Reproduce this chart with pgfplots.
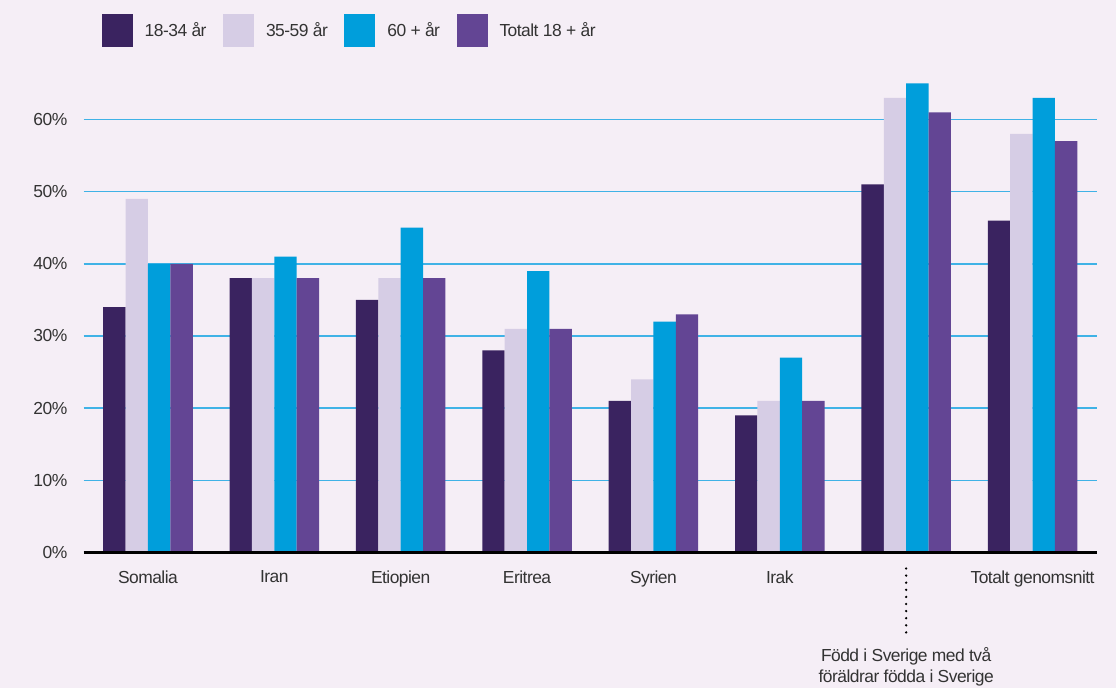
\documentclass[border=0pt]{standalone}
\usepackage{fontspec}
\setmainfont{Liberation Sans}[LetterSpace=-3]
\usepackage{pgfplots}
\pgfplotsset{compat=1.18}
\definecolor{bg}{HTML}{F5EEF6}
\definecolor{cA}{HTML}{3A2360}
\definecolor{cB}{HTML}{D6CDE5}
\definecolor{cC}{HTML}{009EDB}
\definecolor{cD}{HTML}{634594}
\definecolor{gridc}{HTML}{3FB2E6}
\definecolor{txt}{HTML}{333333}
\newcommand{\lf}{\fontsize{17.5}{21}\selectfont}
\pgfplotsset{sq/.style={legend image code/.code={\fill[##1] (0bp,-16.2bp) rectangle (31bp,16.8bp);}}}
\begin{document}
\begin{tikzpicture}
\fill[bg] (0,0) rectangle (1116bp,688bp);
\begin{axis}[
  at={(83.5bp,135.5bp)}, anchor=south west,
  scale only axis, width=1013.5bp, height=505.2bp,
  xmin=-0.51, xmax=7.51, ymin=0, ymax=70,
  clip=false,
  ybar=0pt, bar width=22.4bp,
  axis line style={draw=none},
  major tick length=0pt,
  xtick={0,...,7},
  xticklabels={Somalia,Iran,Etiopien,Eritrea,Syrien,Irak,{},Totalt genomsnitt},
  ytick={0,10,20,30,40,50,60},
  yticklabels={0\%,10\%,20\%,30\%,40\%,50\%,60\%},
  ymajorgrids, grid style={gridc, line width=1.4bp},
  tick label style={font=\lf, text=txt},
  xticklabel style={anchor=north, inner sep=0pt, yshift=-18bp},
  yticklabel style={anchor=east, inner sep=0pt, xshift=-16bp},
  legend columns=4,
  legend style={draw=none, fill=none, inner sep=0pt, outer sep=0pt,
    nodes={inner sep=0pt, font=\lf, text=txt},
    at={(axis description cs:0.018,1.0342)}, anchor=west,
    /tikz/every odd column/.append style={column sep=12bp},
    /tikz/every even column/.append style={column sep=16.5bp}},
]
\addplot[fill=cA, draw=none, sq] coordinates {(0,34) (1,38) (2,35) (3,28) (4,21) (5,19) (6,51) (7,46)};
\addplot[fill=cB, draw=none, sq] coordinates {(0,49) (1,38) (2,38) (3,31) (4,24) (5,21) (6,63) (7,58)};
\addplot[fill=cC, draw=none, sq] coordinates {(0,40) (1,41) (2,45) (3,39) (4,32) (5,27) (6,65) (7,63)};
\addplot[fill=cD, draw=none, sq] coordinates {(0,40) (1,38) (2,38) (3,31) (4,33) (5,21) (6,61) (7,57)};
\legend{18-34 år,35-59 år,60 + år,Totalt 18 + år}
\draw[black, line width=2.6bp] (rel axis cs:0,0) -- (rel axis cs:1,0);
\draw[black, line width=2.6bp, line cap=round, dash pattern=on 0bp off 7.1bp] ([yshift=-16bp]axis cs:6,0) -- ([yshift=-80bp]axis cs:6,0);
\node[anchor=north, align=center, font=\lf, text=txt, inner sep=0pt] at ([yshift=-95bp]axis cs:6,0) {Född i Sverige med två\\föräldrar födda i Sverige};
\end{axis}
\pgfresetboundingbox
\useasboundingbox (0,0) rectangle (1116bp,688bp);
\end{tikzpicture}
\end{document}
